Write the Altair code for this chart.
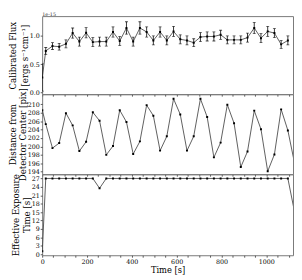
import altair as alt
import pandas as pd

# ---- data ----
times = [0.5, 16, 46, 76, 106, 136, 166, 196, 226, 256, 286, 316, 346, 376, 406,
         436, 466, 496, 526, 556, 586, 616, 646, 676, 706, 736, 766, 796, 826,
         856, 886, 916, 946, 976, 1006, 1036, 1066, 1096, 1126]

flux = [0.265, 0.735, 0.82, 0.81, 0.86, 1.05, 0.90, 1.055, 0.89, 0.90, 0.90,
        1.07, 0.91, 1.14, 0.90, 1.14, 1.07, 0.92, 1.07, 0.92, 1.08, 0.94, 0.92,
        0.88, 0.98, 0.99, 0.99, 1.02, 0.93, 0.93, 0.93, 0.97, 1.14, 0.96, 1.08,
        1.05, 0.85, 0.92]
flux_err = [0.24, 0.06, 0.06, 0.06, 0.07, 0.09, 0.08, 0.09, 0.08, 0.08, 0.08,
            0.09, 0.08, 0.11, 0.08, 0.11, 0.09, 0.08, 0.09, 0.08, 0.09, 0.08,
            0.08, 0.07, 0.08, 0.08, 0.08, 0.08, 0.07, 0.07, 0.07, 0.08, 0.10,
            0.08, 0.09, 0.08, 0.07, 0.08]

distance = [208.6, 205.3, 199.6, 200.8, 207.9, 205.0, 198.9, 201.1, 208.1, 206.1,
            198.0, 200.1, 208.6, 205.8, 198.2, 201.2, 209.8, 207.3, 199.0, 202.4,
            211.3, 207.6, 199.0, 202.4, 211.3, 207.0, 197.4, 200.9, 209.9, 205.5,
            195.1, 198.8, 208.5, 204.1, 194.1, 198.1, 208.8, 203.8, 196.0]

exposure = [1, 27, 27, 27, 27, 27, 27, 27, 27, 23.5, 27, 27, 27, 27, 27, 27, 27,
            27, 27, 27, 27, 27, 27, 27, 27, 27, 27, 27, 27, 27, 27, 27, 27, 27,
            27, 27, 27, 27, 15]

x_ticks = [0, 50, 100, 150, 200, 250, 300, 350, 400, 450, 500, 550, 600, 650,
           700, 750, 800, 850, 900, 950, 1000, 1050, 1100]
flux_ticks = [0.0, 0.5, 1.0]
dist_ticks = [194, 196, 198, 200, 202, 204, 206, 208, 210]
exp_ticks = [0, 3, 6, 9, 12, 15, 18, 21, 24, 27]

df_flux = pd.DataFrame({
    "t": times[:len(flux)],
    "f": flux,
    "lo": [f - e for f, e in zip(flux, flux_err)],
    "hi": [f + e for f, e in zip(flux, flux_err)],
})
df_dist = pd.DataFrame({"t": times, "d": distance})
df_exp = pd.DataFrame({"t": times, "e": exposure})

FONT = "DejaVu Serif"
W = 257
LINE = "#333333"

xscale = alt.Scale(domain=[0, 1119], nice=False, zero=False)


def xenc(show):
    if show:
        ax = alt.Axis(values=x_ticks, format="d", title="Time [s]",
                      labelExpr="datum.value % 200 == 0 ? datum.label : ''")
    else:
        ax = alt.Axis(values=x_ticks, labels=False, title=None)
    return alt.X("t:Q", scale=xscale, axis=ax)


# ---- panel 1: flux ----
y1_scale = alt.Scale(domain=[-0.03, 1.35], nice=False, zero=False)
y1_axis = alt.Axis(values=flux_ticks, format=".1f", titleLineHeight=12,
                   title=["Calibrated Flux", "[ergs s⁻¹cm⁻¹]"])
b1 = alt.Chart(df_flux)
p1 = alt.layer(
    b1.mark_line(color=LINE, strokeWidth=0.8, clip=True).encode(
        x=xenc(False), y=alt.Y("f:Q", scale=y1_scale, axis=y1_axis)),
    b1.mark_rule(color="black", strokeWidth=0.8, clip=True).encode(
        x=xenc(False), y=alt.Y("lo:Q", scale=y1_scale, axis=y1_axis), y2="hi:Q"),
    b1.mark_tick(orient="horizontal", size=3, thickness=0.8, color="black",
                 clip=True).encode(
        x=xenc(False), y=alt.Y("lo:Q", scale=y1_scale, axis=y1_axis)),
    b1.mark_tick(orient="horizontal", size=3, thickness=0.8, color="black",
                 clip=True).encode(
        x=xenc(False), y=alt.Y("hi:Q", scale=y1_scale, axis=y1_axis)),
    b1.mark_point(shape="square", filled=True, size=4, color="black",
                  opacity=1, clip=True).encode(
        x=xenc(False), y=alt.Y("f:Q", scale=y1_scale, axis=y1_axis)),
    alt.Chart(pd.DataFrame({"txt": ["1e-15"]})).mark_text(
        align="left", baseline="bottom", fontSize=5, font=FONT,
        color="#333", dy=0.5).encode(
        x=alt.value(0), y=alt.value(0), text="txt:N"),
).properties(width=W, height=80)

# ---- panel 2: distance ----
y2_scale = alt.Scale(domain=[193.4, 212.4], nice=False, zero=False)
y2_axis = alt.Axis(values=dist_ticks, format="d", titleLineHeight=10,
                   title=["Distance from", "Detector Center [pix]"])
b2 = alt.Chart(df_dist)
p2 = alt.layer(
    b2.mark_line(color=LINE, strokeWidth=0.8, clip=True).encode(
        x=xenc(False), y=alt.Y("d:Q", scale=y2_scale, axis=y2_axis)),
    b2.mark_point(shape="square", filled=True, size=4, color="black",
                  opacity=1, clip=True).encode(
        x=xenc(False), y=alt.Y("d:Q", scale=y2_scale, axis=y2_axis)),
).properties(width=W, height=82)

# ---- panel 3: exposure ----
y3_scale = alt.Scale(domain=[-0.4, 28.5], nice=False, zero=False)
y3_axis = alt.Axis(values=exp_ticks, format="d", titleLineHeight=11,
                   title=["Effective Exposure", "Time [s]"])
b3 = alt.Chart(df_exp)
p3 = alt.layer(
    b3.mark_line(color=LINE, strokeWidth=0.8, clip=True).encode(
        x=xenc(True), y=alt.Y("e:Q", scale=y3_scale, axis=y3_axis)),
    b3.mark_point(shape="square", filled=True, size=4, color="black",
                  opacity=1, clip=True).encode(
        x=xenc(True), y=alt.Y("e:Q", scale=y3_scale, axis=y3_axis)),
).properties(width=W, height=83)

chart = alt.vconcat(p1, p2, p3, spacing=0).properties(
    padding=0, background="white", bounds="flush"
).configure_view(
    stroke="#777777", strokeWidth=1
).configure_axis(
    labelFont=FONT, titleFont=FONT, labelFontSize=6.5, titleFontSize=8.8,
    labelColor="black", titleColor="black", titleFontWeight="normal",
    tickSize=2, tickColor="#333", tickWidth=0.8, domain=False, grid=False,
    labelPadding=1, titlePadding=0, labelFlush=False, labelOverlap=False,
).configure_axisX(titleFontSize=8.5, titlePadding=1)

chart.save("out.html", embed_options={"renderer": "svg", "actions": False})
